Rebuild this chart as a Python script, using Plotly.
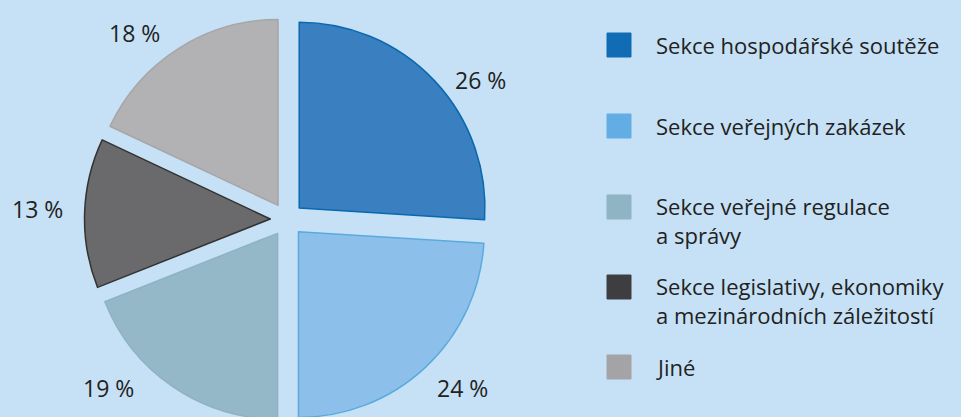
import plotly.graph_objects as go

categories = [
    "Sekce hospodářské soutěže",
    "Sekce veřejných zakázek",
    "Sekce veřejné regulace<br>a správy",
    "Sekce legislativy, ekonomiky<br>a mezinárodních záležitostí",
    "Jiné",
]
values = [26, 24, 19, 13, 18]

fill_colors = ["#3a7fc0", "#8cc0ea", "#95b8c8", "#6a6a6c", "#b2b2b4"]
line_colors = ["#0a68b0", "#5aaae0", "#8fb2c2", "#333333", "#a6a6a8"]
swatch_colors = ["#0f6cb5", "#62ade4", "#8fb5c5", "#3e3e40", "#a4a4a6"]

# label / legend placement (pixels)
value_label_pos_px = [(481, 80), (462, 388), (108, 388), (37, 209), (134, 33)]
legend_centers_px = [45, 126, 207, 287, 367]

W = 961
H_VIEW = 417
H = 422          # figure slightly taller than the view: bottom of pie is cut off
TOP = 17
BG = "#c6e1f5"
FONT = "Open Sans"
TEXT_COL = "#222222"

plot_h = H - TOP


def px_x(x):
    return x / W


def px_y(y):
    return (H - y) / plot_h


fig = go.Figure()
fig.add_trace(go.Pie(
    labels=categories,
    values=values,
    sort=False,
    direction="clockwise",
    rotation=0,
    pull=[0.09] * len(values),
    marker=dict(colors=fill_colors, line=dict(color=line_colors, width=1.5)),
    textinfo="none",
    domain=dict(x=[px_x(84.5), px_x(489.5)], y=[0, 1]),
    showlegend=False,
    hoverinfo="label+percent",
))

annotations = []
for v, (lx, ly) in zip(values, value_label_pos_px):
    annotations.append(dict(
        xref="paper", yref="paper", x=px_x(lx), y=px_y(ly),
        xanchor="center", yanchor="middle",
        text=f"{v} %", showarrow=False,
        font=dict(family=FONT, size=23, color=TEXT_COL),
    ))

line_h = 27
shapes = []
for cat, col, cy in zip(categories, swatch_colors, legend_centers_px):
    shapes.append(dict(
        type="rect", xref="paper", yref="paper",
        x0=px_x(607), x1=px_x(631), y0=px_y(cy + 12), y1=px_y(cy - 12),
        fillcolor=col, line=dict(color=col, width=1),
    ))
    n_lines = cat.count("<br>") + 1
    annotations.append(dict(
        xref="paper", yref="paper", x=px_x(654), y=px_y(cy + (n_lines - 1) * line_h / 2),
        xanchor="left", yanchor="middle", align="left",
        text=cat, showarrow=False,
        font=dict(family=FONT, size=22, color=TEXT_COL),
    ))

fig.update_layout(
    width=W, height=H,
    margin=dict(l=0, r=0, t=TOP, b=0),
    paper_bgcolor=BG, plot_bgcolor=BG,
    shapes=shapes, annotations=annotations,
    showlegend=False,
)

fig.write_html(
    "out.html",
    config={"displayModeBar": False},
    post_script="document.body.style.margin='0';document.body.style.overflow='hidden';",
)
